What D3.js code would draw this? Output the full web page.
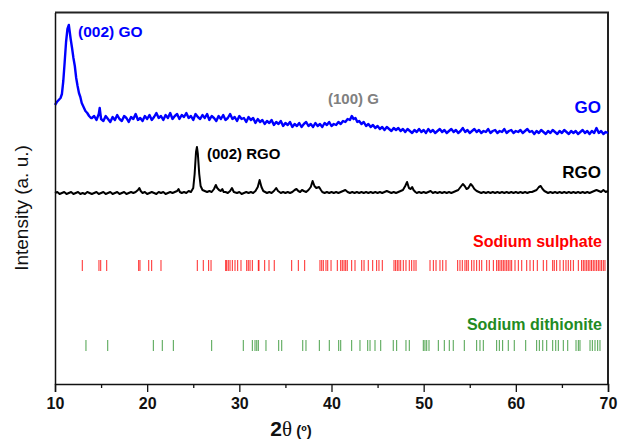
<!DOCTYPE html>
<html><head><meta charset="utf-8">
<script src="https://cdn.jsdelivr.net/npm/d3@7"></script>
<style>html,body{margin:0;padding:0;background:#fff;}svg{display:block;font-family:Arial,"Liberation Sans",sans-serif;}</style>
</head><body>
<svg id="c" width="619" height="443"></svg>
<script>
// ---- data (2θ in degrees, intensity in arbitrary units, offset per pattern) ----
const goPattern = [
[10.0,279],[10.2,282],[10.4,284],[10.6,286],[10.75,290],[10.9,303],[11.05,322],[11.2,342],[11.35,355],[11.5,359],[11.6,352],[11.7,345],[11.85,336],[12.0,326],[12.15,318],[12.3,306],[12.45,298],[12.6,291],[12.75,287],[12.9,281],[13.1,277],[13.3,273],[13.5,271],[13.7,268],[13.9,266],
[14.0,266],[14.25,268],[14.5,264],[14.75,270],[14.85,276],[15.0,265],[15.25,263],[15.5,268],[15.75,265],[16.0,262],[16.25,267],[16.5,264],[16.75,269],[17.0,265],[17.25,263],[17.5,268],[17.75,266],[18.0,262],[18.25,267],[18.5,265],[18.75,270],[19.0,264],[19.25,266],[19.5,263],[19.75,268],
[20.0,265],[20.25,269],[20.5,264],[20.75,267],[21.0,271],[21.25,266],[21.5,268],[21.75,264],[22.0,269],[22.25,266],[22.5,271],[22.75,265],[23.0,268],[23.25,270],[23.5,265],[23.75,269],[24.0,267],[24.25,271],[24.5,266],[24.75,268],[25.0,264],[25.25,270],[25.5,267],[25.75,265],[26.0,269],[26.25,266],[26.5,270],[26.75,264],[27.0,268],[27.25,266],[27.5,263],[27.75,268],[28.0,265],[28.25,269],[28.5,264],[28.75,266],[29.0,270],[29.25,265],[29.5,267],[29.75,263],
[30.0,268],[30.25,265],[30.5,266],[30.75,262],[31.0,267],[31.25,264],[31.5,266],[31.75,261],[32.0,265],[32.25,262],[32.5,264],[32.75,260],[33.0,263],[33.25,261],[33.5,264],[33.75,259],[34.0,262],[34.25,260],[34.5,263],[34.75,258],[35.0,261],[35.25,259],[35.5,262],[35.75,257],[36.0,260],[36.25,258],[36.5,261],[36.75,257],[37.0,260],[37.25,262],[37.5,258],[37.75,260],[38.0,257],[38.25,261],[38.5,258],[38.75,260],[39.0,257],[39.25,261],[39.5,259],[39.75,262],
[40.0,258],[40.25,260],[40.5,259],[40.75,262],[41.0,260],[41.25,263],[41.5,262],[41.75,265],[42.0,264],[42.2,268],[42.4,265],[42.6,266],[42.8,262],[43.0,263],[43.25,260],[43.5,262],[43.75,258],[44.0,260],[44.25,257],[44.5,259],[44.75,256],[45.0,258],[45.25,255],[45.5,257],[45.75,254],[46.0,257],[46.25,255],[46.5,253],[46.75,256],[47.0,254],[47.25,256],[47.5,253],[47.75,255],[48.0,252],[48.25,255],[48.5,253],[48.75,251],[49.0,254],[49.25,252],[49.5,255],[49.75,252],
[50.0,254],[50.25,251],[50.5,255],[50.75,252],[51.0,254],[51.25,251],[51.5,253],[51.75,255],[52.0,252],[52.25,254],[52.5,251],[52.75,253],[53.0,255],[53.25,252],[53.5,254],[53.75,251],[54.0,253],[54.25,256],[54.5,252],[54.75,254],[55.0,251],[55.25,253],[55.5,255],[55.75,252],[56.0,254],[56.25,251],[56.5,253],[56.75,252],[57.0,255],[57.25,251],[57.5,253],[57.75,254],[58.0,251],[58.25,253],[58.5,252],[58.75,255],[59.0,251],[59.25,253],[59.5,254],[59.75,251],
[60.0,253],[60.25,252],[60.5,254],[60.75,251],[61.0,253],[61.25,255],[61.5,252],[61.75,253],[62.0,250],[62.25,253],[62.5,251],[62.75,254],[63.0,252],[63.25,250],[63.5,253],[63.75,251],[64.0,254],[64.25,252],[64.5,250],[64.75,253],[65.0,251],[65.25,254],[65.5,252],[65.75,250],[66.0,253],[66.25,251],[66.5,253],[66.75,250],[67.0,252],[67.25,254],[67.5,251],[67.75,253],[68.0,250],[68.25,253],[68.5,251],[68.75,256],[69.0,251],[69.25,253],[69.5,250],[69.75,252],[70.0,251]
];

const rgoPattern = [
[10.0,191],[10.25,192],[10.5,190],[10.75,191],[11.0,192],[11.25,190],[11.5,191],[11.75,192],[12.0,190],[12.25,191],[12.5,192],[12.75,190],[13.0,191],[13.25,190],[13.5,192],[13.75,191],[14.0,190],[14.25,191],[14.5,192],[14.75,190],[15.0,191],[15.25,192],[15.5,190],[15.75,191],[16.0,192],[16.25,190],[16.5,191],[16.75,192],[17.0,190],[17.25,191],[17.5,192],[17.75,190],[18.0,191],[18.25,192],[18.5,191],[18.75,192],[19.0,194],[19.15,196],[19.3,193],[19.5,191],[19.75,192],
[20.0,190],[20.25,191],[20.5,192],[20.75,191],[21.0,190],[21.25,192],[21.5,191],[21.75,192],[22.0,190],[22.25,191],[22.5,192],[22.75,191],[23.0,192],[23.25,193],[23.4,195],[23.55,192],[23.75,191],[24.0,192],[24.25,191],[24.5,193],[24.75,192],[25.0,196],[25.15,210],[25.3,232],[25.4,237],[25.5,230],[25.65,210],[25.8,198],[26.0,194],[26.25,193],[26.5,192],[26.75,193],[27.0,192],[27.25,195],[27.45,199],[27.6,196],[27.8,194],[28.0,193],[28.15,195],[28.3,192],[28.5,192],[28.75,191],[29.0,193],[29.2,196],[29.4,192],[29.75,191],
[30.0,192],[30.25,190],[30.5,191],[30.75,192],[31.0,191],[31.25,192],[31.5,191],[31.75,193],[32.0,197],[32.2,204],[32.4,197],[32.6,193],[32.8,192],[33.0,191],[33.25,192],[33.5,191],[33.75,193],[34.0,196],[34.2,193],[34.5,191],[34.75,192],[35.0,191],[35.25,192],[35.5,191],[35.75,192],[36.0,194],[36.2,195],[36.4,193],[36.6,192],[36.8,194],[37.0,193],[37.25,192],[37.5,194],[37.75,197],[37.95,203],[38.15,198],[38.35,196],[38.65,197],[38.85,194],[39.0,192],[39.25,191],[39.5,192],[39.75,191],
[40.0,192],[40.25,191],[40.5,192],[40.75,191],[41.0,192],[41.25,193],[41.5,194],[41.75,192],[42.0,191],[42.25,192],[42.5,191],[42.75,192],[43.0,191],[43.25,192],[43.5,191],[43.75,192],[44.0,191],[44.25,192],[44.5,191],[44.75,192],[45.0,191],[45.25,192],[45.5,191],[45.75,192],[46.0,193],[46.25,192],[46.5,191],[46.75,192],[47.0,191],[47.25,192],[47.5,193],[47.75,194],[48.0,198],[48.2,202],[48.4,196],[48.6,195],[48.75,197],[48.9,194],[49.1,192],[49.25,191],[49.5,192],[49.75,191],
[50.0,192],[50.25,191],[50.5,192],[50.75,193],[51.0,191],[51.25,192],[51.5,191],[51.75,192],[52.0,191],[52.25,192],[52.5,191],[52.75,192],[53.0,191],[53.25,192],[53.5,193],[53.75,194],[54.0,197],[54.25,200],[54.45,198],[54.65,195],[54.85,196],[55.1,200],[55.3,198],[55.5,195],[55.75,193],[56.0,192],[56.25,191],[56.5,192],[56.75,191],[57.0,192],[57.25,191],[57.5,192],[57.75,191],[58.0,192],[58.25,191],[58.5,192],[58.75,191],[59.0,192],[59.25,191],[59.5,192],[59.75,191],
[60.0,192],[60.25,191],[60.5,192],[60.75,191],[61.0,192],[61.25,191],[61.5,192],[61.75,192],[62.0,193],[62.25,194],[62.5,197],[62.7,198],[62.9,195],[63.1,193],[63.3,192],[63.5,191],[63.75,192],[64.0,191],[64.25,192],[64.5,191],[64.75,192],[65.0,191],[65.25,192],[65.5,191],[65.75,192],[66.0,191],[66.25,192],[66.5,191],[66.75,192],[67.0,191],[67.25,192],[67.5,191],[67.75,192],[68.0,191],[68.25,192],[68.5,193],[68.75,194],[69.0,193],[69.25,192],[69.5,194],[69.75,192],[70.0,193]
];

// reference reflection positions (2θ)
const sodiumSulphate = [12.96,14.77,14.96,15.61,19.08,19.22,20.17,20.49,21.50,25.44,26.09,26.67,26.93,28.52,28.63,28.80,28.99,29.24,29.53,29.82,30.18,30.80,30.97,31.16,31.41,32.06,32.13,32.75,33.22,33.79,35.68,36.40,37.09,38.75,38.94,39.11,39.40,39.59,39.95,40.63,41.00,41.17,41.36,41.54,41.71,42.19,42.55,43.28,43.53,43.99,44.47,44.90,45.15,45.51,46.78,46.96,47.14,47.32,47.51,47.79,48.08,48.44,48.70,48.95,49.17,50.69,51.05,51.34,51.77,52.07,52.42,53.69,53.94,54.19,54.48,54.67,54.84,55.21,55.46,55.75,56.04,56.30,56.84,57.12,57.56,57.92,58.10,58.28,58.47,58.64,58.82,59.01,59.18,59.37,59.55,59.91,60.27,60.64,61.18,61.54,61.90,62.33,62.98,63.35,64.00,64.17,64.43,64.79,65.15,65.44,65.69,65.95,66.24,66.78,67.14,67.32,67.50,67.69,67.86,68.04,68.22,68.40,68.58,68.77,68.95,69.13,69.31,69.49,69.67];
const sodiumDithionite = [13.36,15.72,20.67,21.64,22.84,27.00,30.43,31.41,31.70,31.89,32.06,32.89,34.27,34.60,36.88,37.23,38.68,39.76,40.78,41.00,42.19,43.09,43.93,44.18,44.72,45.34,46.70,47.07,48.08,48.44,49.96,50.14,50.33,50.58,51.59,52.24,52.78,53.21,54.41,55.75,56.11,56.47,57.92,58.21,58.57,59.18,59.83,61.07,62.26,62.55,62.92,63.35,64.00,64.33,64.61,65.15,65.63,66.53,66.78,66.96,68.05,68.30,68.59,68.88,69.13];

const xTicks = [10,20,30,40,50,60,70];
const xMinorTicks = [15,25,35,45,55,65];

// ---- layout ----
const svg = d3.select("#c");
const L = 55, R = 608, T = 12.5, B = 384;
const x = d3.scaleLinear().domain([10,70]).range([L,R]);
const y = d3.scaleLinear().domain([0,371.5]).range([B,T]);

const line = d3.line().x(d=>x(d[0])).y(d=>y(d[1]));

// frame
svg.append("path").attr("d",`M${L},${T}H${R}V${B}`).attr("fill","none").attr("stroke","#222").attr("stroke-width",2);

// patterns
svg.append("path").datum(goPattern).attr("d",line).attr("fill","none").attr("stroke","#0000ff").attr("stroke-width",2.4).attr("stroke-linejoin","round");
svg.append("path").datum(rgoPattern).attr("d",line).attr("fill","none").attr("stroke","#000").attr("stroke-width",2).attr("stroke-linejoin","round");

// reference sticks
svg.append("g").selectAll("line").data(sodiumSulphate).join("line")
  .attr("x1",d=>x(d)).attr("x2",d=>x(d)).attr("y1",y(124)).attr("y2",y(113))
  .attr("stroke","#ff0000").attr("stroke-width",1).attr("stroke-opacity",0.85);
svg.append("g").selectAll("line").data(sodiumDithionite).join("line")
  .attr("x1",d=>x(d)).attr("x2",d=>x(d)).attr("y1",y(44)).attr("y2",y(33))
  .attr("stroke","#1e8a1e").attr("stroke-width",1).attr("stroke-opacity",0.8);

// axes
const xAxis = svg.append("g").attr("transform",`translate(0,${B})`)
  .call(d3.axisBottom(x).tickValues(xTicks).tickSize(8).tickPadding(6).tickFormat(d3.format("d")));
xAxis.select(".domain").attr("stroke","#111").attr("stroke-width",1.5);
xAxis.selectAll(".tick line").attr("stroke","#111").attr("stroke-width",1.3);
xAxis.selectAll(".tick text").attr("font-family","Arial, 'Liberation Sans', sans-serif").attr("font-size",16).attr("font-weight","bold").attr("fill","#111");
const xMinor = svg.append("g").attr("transform",`translate(0,${B})`)
  .call(d3.axisBottom(x).tickValues(xMinorTicks).tickSize(4).tickFormat(""));
xMinor.select(".domain").remove();
xMinor.selectAll(".tick line").attr("stroke","#111").attr("stroke-width",1.3);

const yAxis = svg.append("g").attr("transform",`translate(${L},0)`)
  .call(d3.axisLeft(y).tickValues([]).tickSizeOuter(0));
yAxis.select(".domain").attr("stroke","#111").attr("stroke-width",1.5);

// axis titles
const xt = svg.append("text").attr("x",291).attr("y",436).attr("text-anchor","middle").attr("fill","#111");
xt.append("tspan").text("2").attr("font-size",21).attr("font-weight","bold");
xt.append("tspan").text("θ").attr("font-size",21).attr("font-family","'Liberation Serif','DejaVu Serif',serif");
xt.append("tspan").text(" (º)").attr("font-size",15).attr("font-weight","bold");

svg.append("text").attr("transform","translate(28,208) rotate(-90)").attr("text-anchor","middle")
  .attr("font-size",19).attr("fill","#111").text("Intensity (a. u.)");

// annotations
function label(t,px,py,anchor,size,color){
  svg.append("text").attr("x",px).attr("y",py).attr("text-anchor",anchor).attr("font-size",size)
    .attr("font-weight","bold").attr("fill",color).text(t);
}
label("(002) GO",78,37,"start",15.5,"#0000ff");
label("(100) G",328,104,"start",15,"#808080");
label("GO",601,113,"end",17,"#0000ff");
label("(002) RGO",207,159,"start",15,"#000");
label("RGO",601,178,"end",17,"#000");
label("Sodium sulphate",602,247,"end",16,"#ff0000");
label("Sodium dithionite",602,330,"end",16,"#228b22");
</script>
</body></html>
